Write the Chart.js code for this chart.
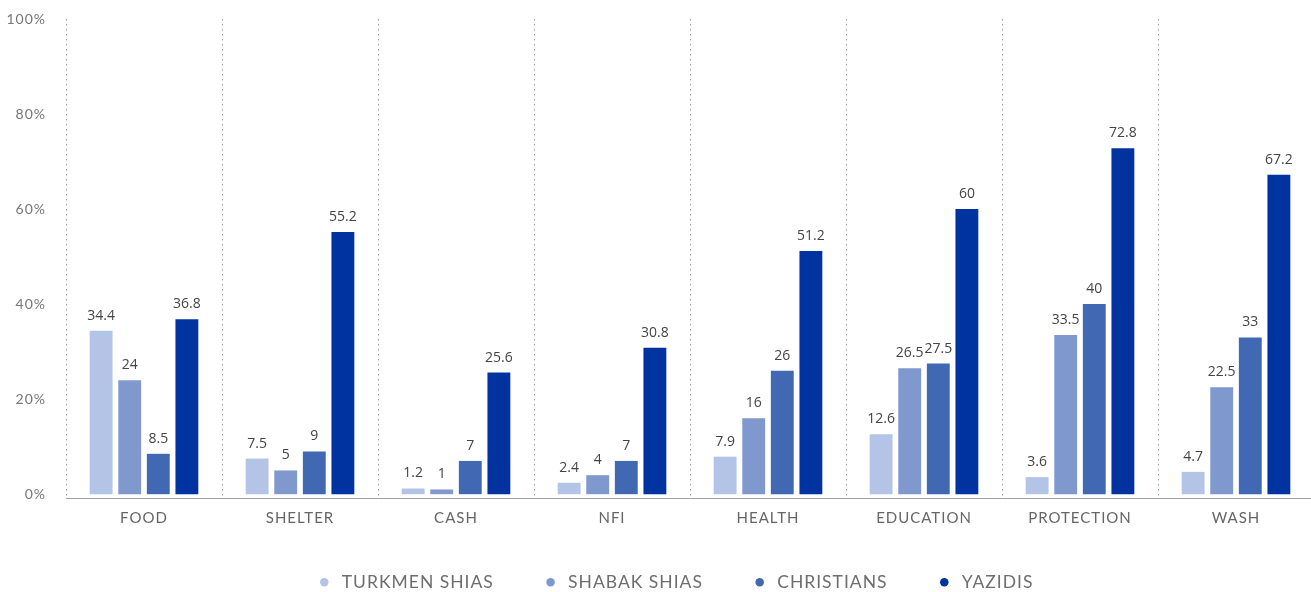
<!DOCTYPE html>
<html>
<head>
<meta charset="utf-8">
<script src="https://cdn.jsdelivr.net/npm/chart.js@4/dist/chart.umd.min.js"></script>
<style>
html,body{margin:0;padding:0;background:#fff;overflow:hidden;}
#wrap{width:1314px;height:592px;position:relative;}
</style>
</head>
<body>
<div id="wrap"><canvas id="c"></canvas></div>
<script>
const categories = ['FOOD','SHELTER','CASH','NFI','HEALTH','EDUCATION','PROTECTION','WASH'];
const seriesNames = ['TURKMEN SHIAS','SHABAK SHIAS','CHRISTIANS','YAZIDIS'];
const turkmenShias = [34.4, 7.5, 1.2, 2.4, 7.9, 12.6, 3.6, 4.7];
const shabakShias  = [24, 5, 1, 4, 16, 26.5, 33.5, 22.5];
const christians   = [8.5, 9, 7, 7, 26, 27.5, 40, 33];
const yazidis      = [36.8, 55.2, 25.6, 30.8, 51.2, 60, 72.8, 67.2];
const seriesColors = ['#b4c4e6', '#7f98ce', '#4168b2', '#0033a0'];
const yTicks = [0, 20, 40, 60, 80, 100];

const spacing = {
  id: 'spacing',
  beforeUpdate(chart) { chart.ctx.letterSpacing = '1px'; },
  beforeLayout(chart) { chart.ctx.letterSpacing = '1px'; },
  afterLayout(chart) {
    if (chart.legend) { chart.legend.left += 17.5; chart.legend.right += 17.5; }
  },
  beforeDraw(chart) { chart.ctx.letterSpacing = '1px'; }
};

const valueLabels = {
  id: 'valueLabels',
  afterDatasetsDraw(chart) {
    const ctx = chart.ctx;
    ctx.save();
    ctx.letterSpacing = '0px';
    ctx.font = '14px "Open Sans", sans-serif';
    ctx.fillStyle = '#444';
    ctx.textAlign = 'center';
    ctx.textBaseline = 'middle';
    chart.data.datasets.forEach((ds, i) => {
      const meta = chart.getDatasetMeta(i);
      meta.data.forEach((bar, j) => {
        ctx.fillText(String(ds.data[j]), bar.x, bar.y - 15);
      });
    });
    ctx.restore();
  }
};

const allSeries = [turkmenShias, shabakShias, christians, yazidis];
new Chart(document.getElementById('c'), {
  type: 'bar',
  data: {
    labels: categories,
    datasets: allSeries.map((d, i) => ({
      label: seriesNames[i],
      data: d,
      backgroundColor: seriesColors[i],
      borderWidth: 0,
      categoryPercentage: 0.733,
      barPercentage: 0.8
    }))
  },
  options: {
    responsive: true,
    maintainAspectRatio: false,
    animation: false,
    layout: { padding: { top: 19, right: 0, bottom: -9, left: 0 } },
    plugins: {
      legend: {
        position: 'bottom',
        labels: {
          usePointStyle: true,
          pointStyle: 'circle',
          boxWidth: 22,
          boxHeight: 6,
          padding: 48,
          color: '#6e6e6e',
          font: { family: 'Lato, sans-serif', size: 17.5 }
        }
      },
      tooltip: { enabled: false }
    },
    scales: {
      x: {
        afterFit: (axis) => { axis.height = 27.5; },
        grid: {
          display: true,
          drawTicks: false,
          color: (c) => (c.index === categories.length ? 'rgba(0,0,0,0)' : '#a0a0a0'),
          lineWidth: 1,
          offset: true
        },
        border: { display: true, color: '#a0a0a0', dash: [1.5, 3.5] },
        ticks: { color: '#666', padding: 11, font: { family: 'Lato, sans-serif', size: 15 } }
      },
      y: {
        min: -0.8,
        max: 100,
        afterFit: (axis) => { axis.width = 66; axis.paddingTop = 0; axis.paddingBottom = 0; },
        afterBuildTicks: (axis) => { axis.ticks = yTicks.map(v => ({ value: v })); },
        grid: { display: false, drawTicks: false },
        border: { display: false },
        ticks: {
          color: '#777',
          padding: 20,
          font: { family: 'Lato, sans-serif', size: 14 },
          callback: (v) => v + '%'
        }
      }
    }
  },
  plugins: [spacing, valueLabels]
});
</script>
</body>
</html>
